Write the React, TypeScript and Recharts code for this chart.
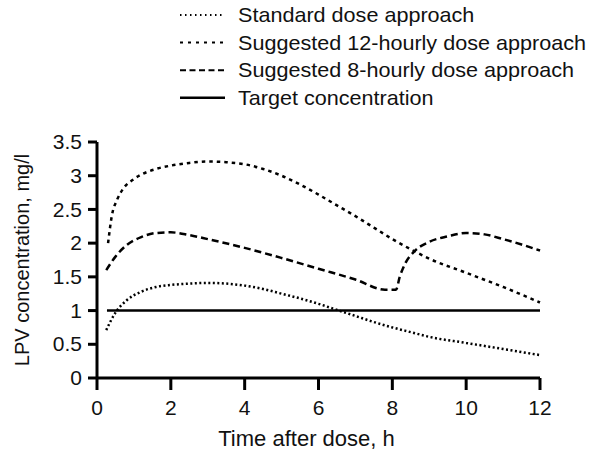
import { Legend, Line, LineChart, XAxis, YAxis } from 'recharts';

const standardDose = [
  { t: 0.25, c: 0.71 }, { t: 0.5, c: 0.97 }, { t: 0.8, c: 1.15 }, { t: 1.2, c: 1.28 },
  { t: 1.6, c: 1.35 }, { t: 2, c: 1.38 }, { t: 2.5, c: 1.4 }, { t: 3, c: 1.41 },
  { t: 3.5, c: 1.4 }, { t: 4, c: 1.37 }, { t: 4.5, c: 1.32 }, { t: 5, c: 1.25 },
  { t: 5.5, c: 1.18 }, { t: 6, c: 1.1 }, { t: 6.5, c: 1.01 }, { t: 7, c: 0.92 },
  { t: 7.5, c: 0.83 }, { t: 8, c: 0.75 }, { t: 8.5, c: 0.68 }, { t: 9, c: 0.61 },
  { t: 10, c: 0.52 }, { t: 11, c: 0.43 }, { t: 12, c: 0.34 },
];

const twelveHourly = [
  { t: 0.3, c: 2.0 }, { t: 0.4, c: 2.4 }, { t: 0.55, c: 2.65 }, { t: 0.7, c: 2.8 },
  { t: 1, c: 2.95 }, { t: 1.6, c: 3.1 }, { t: 2, c: 3.15 }, { t: 2.5, c: 3.19 },
  { t: 3, c: 3.21 }, { t: 3.5, c: 3.2 }, { t: 4, c: 3.17 }, { t: 4.5, c: 3.1 },
  { t: 5, c: 3.0 }, { t: 5.5, c: 2.87 }, { t: 6, c: 2.72 }, { t: 6.5, c: 2.56 },
  { t: 7, c: 2.4 }, { t: 7.5, c: 2.23 }, { t: 8, c: 2.06 }, { t: 8.6, c: 1.88 },
  { t: 9, c: 1.77 }, { t: 10, c: 1.56 }, { t: 11, c: 1.35 }, { t: 12, c: 1.12 },
];

const eightHourly = [
  { t: 0.25, c: 1.6 }, { t: 0.5, c: 1.8 }, { t: 0.8, c: 1.97 }, { t: 1.2, c: 2.09 },
  { t: 1.6, c: 2.15 }, { t: 2, c: 2.16 }, { t: 2.5, c: 2.12 }, { t: 3, c: 2.06 },
  { t: 4, c: 1.93 }, { t: 5, c: 1.78 }, { t: 6, c: 1.62 }, { t: 7, c: 1.46 },
  { t: 7.8, c: 1.31 }, { t: 8.1, c: 1.31 }, { t: 8.2, c: 1.5 }, { t: 8.35, c: 1.7 },
  { t: 8.6, c: 1.88 }, { t: 9, c: 2.02 }, { t: 9.5, c: 2.1 }, { t: 10, c: 2.15 },
  { t: 10.5, c: 2.13 }, { t: 11, c: 2.06 }, { t: 11.5, c: 1.98 }, { t: 12, c: 1.89 },
];

const target = [
  { t: 0.27, c: 1 }, { t: 12, c: 1 },
];

const xTicks = [0, 2, 4, 6, 8, 10, 12];
const yTicks = [0, 0.5, 1, 1.5, 2, 2.5, 3, 3.5];

const legendItems = [
  { label: 'Standard dose approach', dash: '1.5 3.5', width: 2 },
  { label: 'Suggested 12-hourly dose approach', dash: '3 5', width: 2 },
  { label: 'Suggested 8-hourly dose approach', dash: '6 3.5', width: 2 },
  { label: 'Target concentration', dash: undefined, width: 2.5 },
];

const font = '"Liberation Sans", Arial, sans-serif';

const LegendBox = () => (
  <svg width={430} height={110}>
    {legendItems.map((item, i) => {
      const cy = 15 + i * 27.6;
      return (
        <g key={item.label}>
          <line x1={10} x2={55} y1={cy} y2={cy} stroke="#000" strokeWidth={item.width} strokeDasharray={item.dash} />
          <text transform={`translate(68,${cy + 7}) scale(1.08,1)`} fontSize={20} fontFamily={font} fill="#111">
            {item.label}
          </text>
        </g>
      );
    })}
  </svg>
);

const XTick = ({ x, y, payload }: any) => (
  <text transform={`translate(${x},${y}) scale(1.05,1)`} textAnchor="middle" dy="0.71em" fontSize={20} fontFamily={font} fill="#111">
    {payload.value}
  </text>
);

const YTick = ({ x, y, payload }: any) => (
  <text transform={`translate(${x},${y}) scale(1.05,1)`} textAnchor="end" dy="0.36em" fontSize={20} fontFamily={font} fill="#111">
    {payload.value}
  </text>
);

export default function App() {
  return (
    <div style={{ position: 'absolute', left: 0, top: 0, background: '#fff' }}>
      <LineChart width={601} height={459} margin={{ top: 142, right: 61, bottom: 51, left: 37 }}>
        <XAxis
          dataKey="t"
          type="number"
          domain={[0, 12]}
          ticks={xTicks}
          height={30}
          tick={<XTick />}
          tickSize={12}
          tickMargin={11}
          stroke="#000"
          strokeWidth={3}
          allowDuplicatedCategory={false}
          label={{ value: 'Time after dose, h', position: 'insideBottom', offset: -38, dx: -12, style: { fontSize: 22, fill: '#111', fontFamily: font } }}
        />
        <YAxis
          type="number"
          domain={[0, 3.5]}
          ticks={yTicks}
          width={60}
          tick={<YTick />}
          tickSize={9}
          tickMargin={6}
          stroke="#000"
          strokeWidth={3}
          label={{ value: 'LPV concentration, mg/l', angle: -90, position: 'insideLeft', offset: -15, style: { fontSize: 20, fill: '#111', fontFamily: font, textAnchor: 'middle' } }}
        />
        <Legend
          layout="horizontal"
          verticalAlign="middle"
          align="center"
          content={() => <LegendBox />}
          wrapperStyle={{ position: 'absolute', top: 0, left: 170, width: 430 }}
        />
        <Line data={target} dataKey="c" stroke="#000" strokeWidth={2.5} dot={false} isAnimationActive={false} />
        <Line data={standardDose} dataKey="c" type="monotone" stroke="#000" strokeWidth={2.5} strokeDasharray="2 2.5" dot={false} isAnimationActive={false} />
        <Line data={twelveHourly} dataKey="c" type="monotone" stroke="#000" strokeWidth={2.5} strokeDasharray="3.5 4" dot={false} isAnimationActive={false} />
        <Line data={eightHourly} dataKey="c" type="monotone" stroke="#000" strokeWidth={2.5} strokeDasharray="7 4" dot={false} isAnimationActive={false} />
      </LineChart>
    </div>
  );
}
